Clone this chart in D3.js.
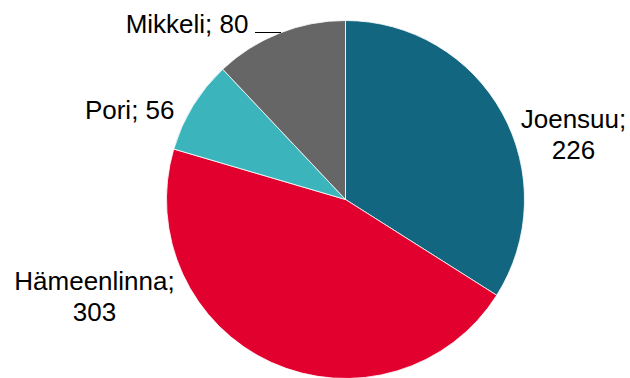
<!DOCTYPE html>
<html>
<head>
<meta charset="utf-8">
<script src="https://cdn.jsdelivr.net/npm/d3@7"></script>
<style>
  body { margin: 0; background: #fff; }
  text { font-family: "Liberation Sans", Arial, sans-serif; font-size: 26px; fill: #000; }
</style>
</head>
<body>
<svg id="chart" width="630" height="378"></svg>
<script>
"use strict";

const cities = ['Joensuu', 'Hämeenlinna', 'Pori', 'Mikkeli']
const counts = [226, 303, 56, 80]
const colors = ['#13667f', '#e2002e', '#3bb5bb', '#666666']

const width = 630
const height = 378
const radius = 179
const cx = 345.5
const cy = 199.5

const data = cities.map((c, i) => ({ city: c, value: counts[i], color: colors[i] }))

const pie = d3.pie()
   .value(d => d.value)
   .sort(null)

const arc = d3.arc()
   .innerRadius(0)
   .outerRadius(radius)

const chart = d3.select('#chart')
const g = chart.append('g')
   .attr('transform', `translate(${cx},${cy})`)

const arcs = pie(data)

g.selectAll('path')
   .data(arcs)
   .enter().append('path')
      .attr('d', arc)
      .attr('fill', d => d.data.color)
      .attr('stroke', '#fff')
      .attr('stroke-width', 0.8)

// label placement, relative to pie center
const label_pos = {
   'Joensuu': { x: 228, y: -72, anchor: 'middle', lines: ['Joensuu;', '226'] },
   'Hämeenlinna': { x: -251, y: 90, anchor: 'middle', lines: ['Hämeenlinna;', '303'] },
   'Pori': { x: -171, y: -81, anchor: 'end', lines: ['Pori; 56'] },
   'Mikkeli': { x: -97, y: -167, anchor: 'end', lines: ['Mikkeli; 80'] }
}

arcs.forEach(d => {
   const p = label_pos[d.data.city]
   const t = g.append('text')
      .attr('text-anchor', p.anchor)
   p.lines.forEach((l, i) => {
      t.append('tspan')
         .attr('x', p.x)
         .attr('y', p.y + i * 31)
         .text(l)
   })
})

// leader line for Mikkeli
const ly = -167
const lx = -Math.sqrt(radius * radius - ly * ly)
g.append('line')
   .attr('x1', -90.5)
   .attr('y1', ly)
   .attr('x2', lx)
   .attr('y2', ly)
   .attr('stroke', '#000')
   .attr('stroke-width', 1)
</script>
</body>
</html>
